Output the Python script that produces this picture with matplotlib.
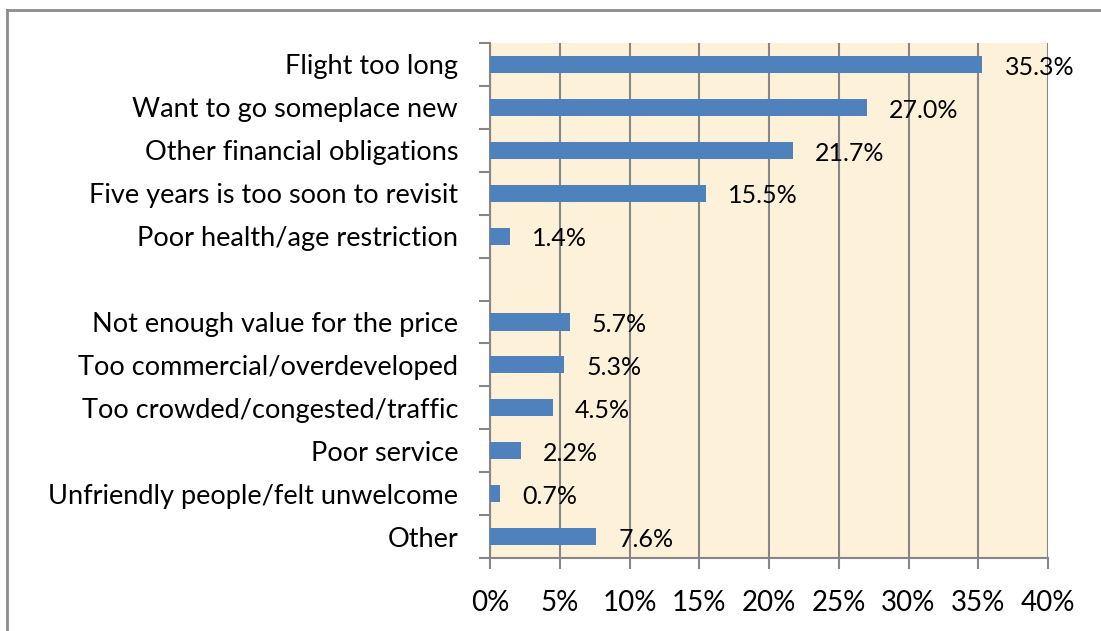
import numpy as np
import matplotlib.pyplot as plt
from matplotlib.lines import Line2D

# reasons, top to bottom ("" is the empty gap row)
reasons = ["Flight too long", "Want to go someplace new", "Other financial obligations",
           "Five years is too soon to revisit", "Poor health/age restriction", "",
           "Not enough value for the price", "Too commercial/overdeveloped",
           "Too crowded/congested/traffic", "Poor service",
           "Unfriendly people/felt unwelcome", "Other"]
shares = [35.3, 27.0, 21.7, 15.5, 1.4, None, 5.7, 5.3, 4.5, 2.2, 0.7, 7.6]
xticks = [0, 5, 10, 15, 20, 25, 30, 35, 40]

plt.rcParams['font.family'] = ['Lato', 'DejaVu Sans']

fig = plt.figure(figsize=(11.01, 6.31), dpi=100)
ax = fig.add_axes([490 / 1101, 1 - 558 / 631, 558 / 1101, 515 / 631])
ax.set_facecolor('#fdf1da')

pos = np.arange(len(reasons))
for y, v in zip(pos, shares):
    if v is None:
        continue
    ax.barh(y, v, height=0.4, color='#4f81bd', zorder=3)
    ax.annotate(f"{v:.1f}%", (v, y), xytext=(16, -2), textcoords='offset points',
                va='center', ha='left', fontsize=18, zorder=4)

ax.set_xlim(0, 40)
ax.set_ylim(len(reasons) - 0.5, -0.5)
ax.set_xticks(xticks)
ax.set_xticklabels([f"{t}%" for t in xticks], fontsize=20)
ax.tick_params(axis='x', length=8, width=1.5, color='#868686', pad=15)
ax.set_yticks(np.arange(len(reasons) + 1) - 0.5)
ax.set_yticklabels([])
ax.set_yticks(pos, minor=True)
ax.set_yticklabels(reasons, minor=True, fontsize=19.5)
ax.tick_params(axis='y', which='major', length=8, width=1.5, color='#868686')
ax.tick_params(axis='y', which='minor', length=0, pad=23)
ax.grid(axis='x', color='#868686', linewidth=1.5, zorder=1)

for s in ['top', 'right']:
    ax.spines[s].set_visible(False)
for s in ['left', 'bottom']:
    ax.spines[s].set_color('#868686')
    ax.spines[s].set_linewidth(1.5)

# outer chart border (clipped at the right and bottom)
fig.add_artist(Line2D([7 / 1101, 7 / 1101], [0, 1 - 10 / 631], color='#8c8c8c', lw=2))
fig.add_artist(Line2D([7 / 1101, 1], [1 - 10 / 631, 1 - 10 / 631], color='#8c8c8c', lw=2))

fig.savefig('out.png', dpi=100)
